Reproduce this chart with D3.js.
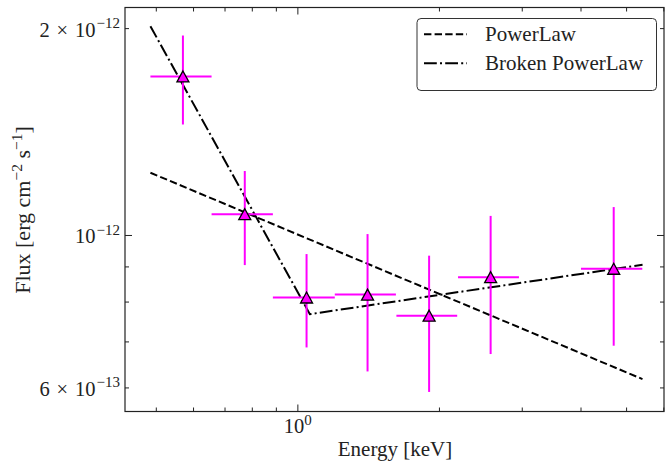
<!DOCTYPE html>
<html>
<head>
<meta charset="utf-8">
<script src="https://d3js.org/d3.v7.min.js"></script>
<style>
  body { margin: 0; background: #fff; }
</style>
</head>
<body>
<div id="chart"></div>
<script>
// binned spectrum (energy in keV, flux in erg cm^-2 s^-1)
const energy   = [0.571, 0.773, 1.046, 1.410, 1.906, 2.576, 4.706];
const energyLo = [0.487, 0.657, 0.887, 1.201, 1.624, 2.196, 4.009];
const energyHi = [0.657, 0.887, 1.201, 1.620, 2.187, 2.959, 5.413];
const flux     = [1.701e-12, 1.072e-12, 0.811e-12, 0.819e-12, 0.763e-12, 0.868e-12, 0.893e-12];
const fluxLo   = [1.448e-12, 0.904e-12, 0.686e-12, 0.633e-12, 0.591e-12, 0.671e-12, 0.690e-12];
const fluxHi   = [1.951e-12, 1.239e-12, 0.938e-12, 1.003e-12, 0.933e-12, 1.066e-12, 1.098e-12];

// model curves
const powerLawE = [0.487, 5.418];
const powerLawF = [1.232e-12, 0.617e-12];
const brokenE   = [0.487, 1.063, 5.42];
const brokenF   = [2.013e-12, 0.767e-12, 0.905e-12];

const legendNames = ["PowerLaw", "Broken PowerLaw"];

// ticks
const xMajor = [1];
const xMinor = [0.5, 0.6, 0.7, 0.8, 0.9, 2, 3, 4, 5, 6];
const yMajor = [1e-12];
const yMinor = [6e-13, 7e-13, 8e-13, 9e-13, 2e-12];
const xLabelTicks = [1];
const xLabelExp = ["0"];
const yLabelTicks = [2e-12, 1e-12, 6e-13];
const yLabelMant = ["2\u2004×\u2004", "", "6\u2004×\u2004"];
const yLabelExp = ["−12", "−12", "−13"];

const FONT = "Liberation Serif";
const W = 665, H = 463;
const pLeft = 125, pRight = 664, pTop = 7.5, pBottom = 411.5;

const x = d3.scaleLog().domain([0.43, 6.02]).range([pLeft, pRight]);
const y = d3.scaleLog().domain([5.535e-13, 2.143e-12]).range([pBottom, pTop]);

const svg = d3.select("#chart").append("svg")
  .attr("width", W).attr("height", H)
  .attr("font-family", FONT);

// model lines
const line = d3.line().x(d => x(d[0])).y(d => y(d[1]));
const plPts = powerLawE.map((e, i) => [e, powerLawF[i]]);
const bkPts = brokenE.map((e, i) => [e, brokenF[i]]);

svg.append("path").attr("d", line(plPts))
  .attr("fill", "none").attr("stroke", "#000").attr("stroke-width", 2)
  .attr("stroke-dasharray", "7.4,3.2");
svg.append("path").attr("d", line(bkPts))
  .attr("fill", "none").attr("stroke", "#000").attr("stroke-width", 2)
  .attr("stroke-dasharray", "12.8,3.2,2,3.2");

// error bars
const pts = energy.map((e, i) => ({e: e, f: flux[i], e0: energyLo[i], e1: energyHi[i], f0: fluxLo[i], f1: fluxHi[i]}));
const eb = svg.append("g").attr("stroke", "#ff00ff").attr("stroke-width", 2);
eb.selectAll(".h").data(pts).enter().append("line")
  .attr("x1", d => x(d.e0)).attr("x2", d => x(d.e1))
  .attr("y1", d => y(d.f)).attr("y2", d => y(d.f));
eb.selectAll(".v").data(pts).enter().append("line")
  .attr("x1", d => x(d.e)).attr("x2", d => x(d.e))
  .attr("y1", d => y(d.f0)).attr("y2", d => y(d.f1));

// markers
svg.append("g").selectAll("path").data(pts).enter().append("path")
  .attr("d", "M0,-5.5L6,5.5L-6,5.5Z")
  .attr("transform", d => "translate(" + x(d.e) + "," + y(d.f) + ")")
  .attr("fill", "#ff00ff").attr("stroke", "#000").attr("stroke-width", 1.3);

// ticks (inward, all sides)
function ticks(gen, tr, vals, size) {
  svg.append("g").attr("transform", tr)
    .call(gen.tickValues(vals).tickSizeInner(-size).tickSizeOuter(0).tickFormat(""))
    .call(g => g.select(".domain").remove())
    .call(g => g.selectAll("line").attr("stroke", "#222").attr("stroke-width", 1));
}
ticks(d3.axisBottom(x), "translate(0," + pBottom + ")", xMajor, 7);
ticks(d3.axisBottom(x), "translate(0," + pBottom + ")", xMinor, 4);
ticks(d3.axisTop(x), "translate(0," + pTop + ")", xMajor, 7);
ticks(d3.axisTop(x), "translate(0," + pTop + ")", xMinor, 4);
ticks(d3.axisLeft(y), "translate(" + pLeft + ",0)", yMajor, 7);
ticks(d3.axisLeft(y), "translate(" + pLeft + ",0)", yMinor, 4);
ticks(d3.axisRight(y), "translate(" + pRight + ",0)", yMajor, 7);
ticks(d3.axisRight(y), "translate(" + pRight + ",0)", yMinor, 4);

// frame
svg.append("rect").attr("x", pLeft).attr("y", pTop)
  .attr("width", pRight - pLeft).attr("height", pBottom - pTop)
  .attr("fill", "none").attr("stroke", "#222").attr("stroke-width", 1.2);

// tick labels
svg.append("g").attr("transform", "translate(0," + pBottom + ")")
  .call(d3.axisBottom(x).tickValues(xLabelTicks).tickSize(0).tickFormat(""))
  .attr("font-family", FONT)
  .call(g => g.select(".domain").remove())
  .selectAll("text").each(function(d, i) {
    const t = d3.select(this).attr("y", 21).attr("dy", null)
      .attr("font-size", 20.5).attr("fill", "#222").attr("text-anchor", "middle");
    t.append("tspan").text("10");
    t.append("tspan").attr("dy", -8).attr("font-size", 15).text(xLabelExp[i]);
  });

svg.append("g").attr("transform", "translate(" + pLeft + ",0)")
  .call(d3.axisLeft(y).tickValues(yLabelTicks).tickSize(0).tickFormat(""))
  .attr("font-family", FONT)
  .call(g => g.select(".domain").remove())
  .selectAll("text").each(function(d, i) {
    const t = d3.select(this).attr("x", -5).attr("dy", null).attr("y", 8)
      .attr("font-size", 20.5).attr("fill", "#222").attr("text-anchor", "end");
    t.append("tspan").text(yLabelMant[i] + "10");
    t.append("tspan").attr("dy", -8.5).attr("dx", 1).attr("font-size", 15).text(yLabelExp[i]);
  });

// axis titles
svg.append("text").attr("x", 395).attr("y", 456).attr("fill", "#222")
  .attr("text-anchor", "middle").attr("font-size", 21).text("Energy [keV]");

const yl = svg.append("text").attr("fill", "#222")
  .attr("transform", "translate(30,210) rotate(-90)")
  .attr("text-anchor", "middle").attr("font-size", 22);
yl.append("tspan").text("Flux [erg cm");
yl.append("tspan").attr("dy", -8).attr("font-size", 15.5).text("−2");
yl.append("tspan").attr("dy", 8).text(" s");
yl.append("tspan").attr("dy", -8).attr("font-size", 15.5).text("−1");
yl.append("tspan").attr("dy", 8).text("]");

// legend
const lg = svg.append("g");
lg.append("rect").attr("x", 417).attr("y", 18.5).attr("width", 239.5).attr("height", 72)
  .attr("rx", 4).attr("fill", "#fff").attr("stroke", "#333").attr("stroke-width", 1);
const dashes = ["7.4,3.2", "12.8,3.2,2,3.2"];
legendNames.forEach((n, i) => {
  const ly = 34.3 + i * 29;
  lg.append("line").attr("x1", 424).attr("x2", 467).attr("y1", ly).attr("y2", ly)
    .attr("stroke", "#000").attr("stroke-width", 2).attr("stroke-dasharray", dashes[i]);
  lg.append("text").attr("x", 485).attr("y", ly + 7).attr("fill", "#222")
    .attr("font-size", 21).text(n);
});
</script>
</body>
</html>
